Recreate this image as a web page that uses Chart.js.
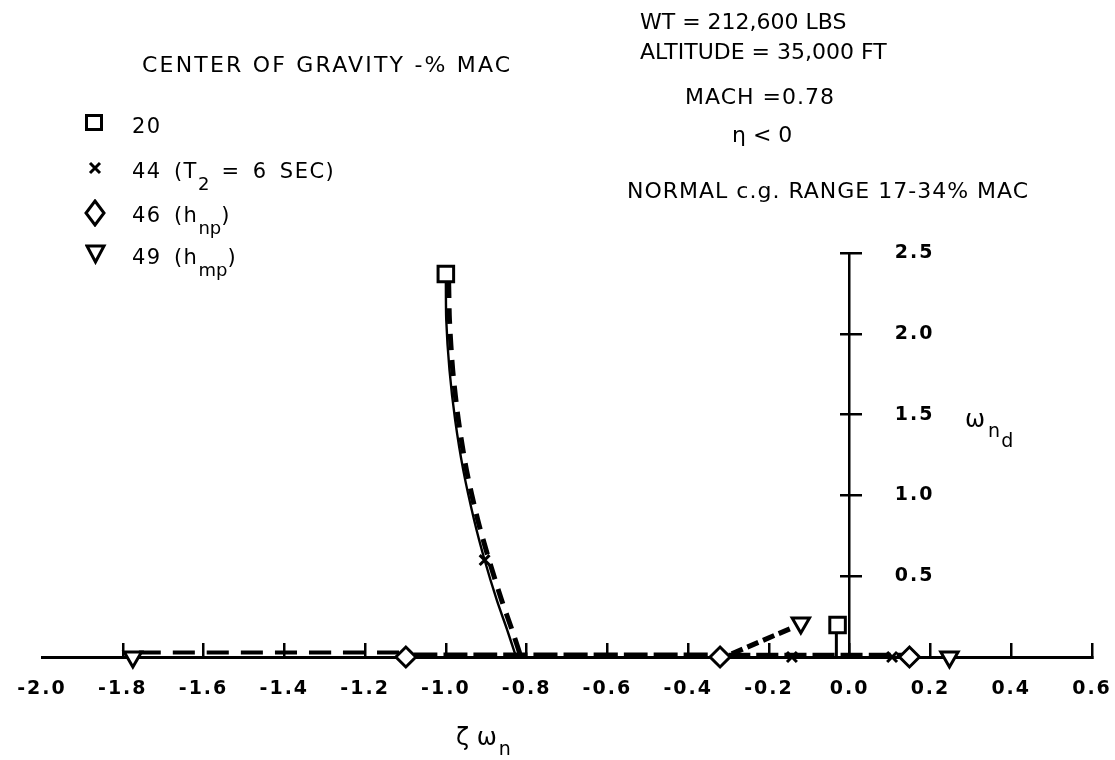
<!DOCTYPE html>
<html><head><meta charset="utf-8">
<script src="https://cdn.jsdelivr.net/npm/chart.js@4.4.1/dist/chart.umd.min.js"></script>
<style>
html,body{margin:0;padding:0;background:#fff;}
#wrap{position:relative;width:1115px;height:760px;overflow:hidden;background:#fff;}
canvas{position:absolute;left:0;top:0;}
.t{position:absolute;font-family:"DejaVu Sans",sans-serif;font-size:22px;line-height:22px;color:#000;white-space:nowrap;}
.lg{font-size:21px;letter-spacing:1.5px;word-spacing:4px;}
.sub{position:relative;top:12px;font-size:18px;letter-spacing:0;}
.mk{position:absolute;}
</style></head><body>
<div id="wrap">
<canvas id="c" width="1115" height="760"></canvas>

<div class="t" style="left:142px;top:54px;letter-spacing:2.2px;">CENTER OF GRAVITY -% MAC</div>

<svg class="mk" style="left:84px;top:113px" width="20" height="20"><rect x="2.5" y="2.5" width="15" height="14" fill="none" stroke="#000" stroke-width="3"/></svg>
<div class="t lg" style="left:132px;top:115px;">20</div>

<svg class="mk" style="left:87px;top:160px" width="16" height="16"><path d="M3 3 L13 13 M13 3 L3 13" stroke="#000" stroke-width="3"/></svg>
<div class="t lg" style="left:132px;top:160px;">44 (T<span class="sub">2</span> = 6 SEC)</div>

<svg class="mk" style="left:84px;top:199px" width="22" height="28"><polygon points="11,2 20,14 11,26 2,14" fill="none" stroke="#000" stroke-width="3"/></svg>
<div class="t lg" style="left:132px;top:204px;">46 (h<span class="sub">np</span>)</div>

<svg class="mk" style="left:85px;top:243px" width="22" height="22"><polygon points="2,3 19,3 10.5,19" fill="none" stroke="#000" stroke-width="3"/></svg>
<div class="t lg" style="left:132px;top:246px;">49 (h<span class="sub">mp</span>)</div>

<div class="t" style="left:640px;top:11px;">WT = 212,600 LBS</div>
<div class="t" style="left:640px;top:41px;">ALTITUDE = 35,000 FT</div>
<div class="t" style="left:685px;top:86px;letter-spacing:1px;">MACH =0.78</div>
<div class="t" style="left:732px;top:124px;">η &lt; 0</div>
<div class="t" style="left:627px;top:180px;letter-spacing:1px;">NORMAL c.g. RANGE 17-34% MAC</div>

<div class="t" style="left:965px;top:408px;font-size:24px;">ω<span style="position:relative;top:10px;font-size:19px;margin-left:3px;">n<span style="position:relative;top:10px;font-size:19px;margin-left:1px;">d</span></span></div>
<div class="t" style="left:456px;top:726px;font-size:24px;">ζ ω<span style="position:relative;top:10px;font-size:19px;margin-left:2px;">n</span></div>
</div>

<script>
// ---- data (zeta*omega_n on x, omega_nd on y) ----
const cg20Zeta  = [-1.000, -0.030];
const cg20Omega = [2.37, 0.198];
const cg44Zeta  = [-0.904, -0.143, 0.105];
const cg44Omega = [0.60, 0.0, 0.0];
const cg46Zeta  = [-1.099, -0.321, 0.148];
const cg46Omega = [0.0, 0.0, 0.0];
const cg49Zeta  = [-1.775, -0.121, 0.247];
const cg49Omega = [0.0, 0.210, 0.0];

// short-period locus (solid and dashed traces)
const spSolidZeta  = [-1.000, -0.999, -0.991, -0.977, -0.957, -0.930, -0.904, -0.874, -0.848, -0.826];
const spSolidOmega = [2.37, 2.085, 1.776, 1.467, 1.158, 0.848, 0.600, 0.353, 0.167, 0.0];
const spDashZeta   = [-0.993, -0.991, -0.983, -0.969, -0.949, -0.921, -0.893, -0.862, -0.836, -0.814];
const spDashOmega  = [2.32, 2.085, 1.776, 1.467, 1.158, 0.848, 0.600, 0.353, 0.167, 0.0];

// real-axis branches
const realAZeta  = [-1.76, -1.11];
const realAOmega = [0.028, 0.028];
const realBZeta  = [-1.08, -0.34];
const realBOmega = [0.012, 0.012];
const realCZeta  = [-0.30, 0.13];
const realCOmega = [0.012, 0.012];

// phugoid branches
const phArrowZeta  = [-0.292, -0.138];
const phArrowOmega = [0.02, 0.185];
const phDropZeta   = [-0.033, -0.033];
const phDropOmega  = [0.0, 0.17];

const xTickValues = [-2.0,-1.8,-1.6,-1.4,-1.2,-1.0,-0.8,-0.6,-0.4,-0.2,0.0,0.2,0.4,0.6];
const yTickValues = [0.5, 1.0, 1.5, 2.0, 2.5];

const pts = (xs, ys) => xs.map((x, i) => ({x, y: ys[i]}));
const TICKFONT = {family: 'DejaVu Sans', size: 19, weight: 'bold'};

function lineDS(xs, ys, width, dash) {
  return {data: pts(xs, ys), showLine: true, borderColor: '#000', borderWidth: width,
    borderDash: dash, pointRadius: 0, tension: 0.25, clip: false, order: 5,
    borderCapStyle: 'butt'};
}
function markDS(xs, ys, style, r, rot) {
  return {data: pts(xs, ys), showLine: false, pointStyle: style, pointRadius: r,
    pointRotation: rot || 0, pointBorderColor: '#000', pointBackgroundColor: '#fff',
    pointBorderWidth: 3, clip: false, order: 1};
}

const spacingPlugin = {
  id: 'spacing',
  beforeUpdate(chart) { chart.ctx.letterSpacing = '2px'; },
  beforeDraw(chart) { chart.ctx.letterSpacing = '2px'; }
};
const yLabelPlugin = {
  id: 'yLabels',
  afterDraw(chart) {
    const {ctx, scales: {x, y}} = chart;
    const x0 = x.getPixelForValue(0);
    ctx.save();
    ctx.font = 'bold 19px "DejaVu Sans"';
    ctx.fillStyle = '#000';
    ctx.textAlign = 'left';
    ctx.textBaseline = 'middle';
    y.ticks.forEach(t => {
      if (t.value > 0) ctx.fillText(t.value.toFixed(1), x0 + 45, y.getPixelForValue(t.value));
    });
    ctx.restore();
  }
};
const zeroY = s => { s.width = 0; s.paddingTop = 0; s.paddingBottom = 0; s.paddingLeft = 0; s.paddingRight = 0; };

new Chart(document.getElementById('c'), {
  type: 'scatter',
  data: {datasets: [
    lineDS(spSolidZeta, spSolidOmega, 2.4, []),
    lineDS(spDashZeta, spDashOmega, 5, [16, 10]),
    lineDS(realAZeta, realAOmega, 4, [22, 12]),
    lineDS(realBZeta, realBOmega, 5, [24, 6]),
    lineDS(realCZeta, realCOmega, 4.5, [22, 6]),
    lineDS(phArrowZeta, phArrowOmega, 5, [12, 5]),
    lineDS(phDropZeta, phDropOmega, 3, []),
    markDS(cg20Zeta, cg20Omega, 'rect', 11),
    markDS(cg44Zeta, cg44Omega, 'crossRot', 7),
    markDS(cg46Zeta, cg46Omega, 'rectRot', 10),
    markDS(cg49Zeta, cg49Omega, 'triangle', 10, 180)
  ]},
  options: {
    responsive: false,
    animation: false,
    events: [],
    layout: {padding: {top: 253, left: 42, right: 23, bottom: 0}},
    plugins: {legend: {display: false}, tooltip: {enabled: false}, title: {display: false}},
    scales: {
      x: {
        type: 'linear', position: 'bottom', min: -2.0, max: 0.6,
        afterBuildTicks: s => { s.ticks = xTickValues.map(v => ({value: v})); },
        afterFit: s => { s.height = 103; s.paddingLeft = 0; s.paddingRight = 0; },
        ticks: {font: TICKFONT, color: '#000', padding: 35, maxRotation: 0, autoSkip: false,
          callback: v => (Math.abs(v) < 1e-9 ? 0 : v).toFixed(1)},
        grid: {drawOnChartArea: false, tickLength: -14, lineWidth: 2.5,
          color: c => (c.tick && c.tick.value <= -1.99) ? 'rgba(0,0,0,0)' : '#000'},
        border: {display: true, color: '#000', width: 3}
      },
      y: {
        type: 'linear', position: {x: 0}, min: 0, max: 2.5,
        afterBuildTicks: s => { s.ticks = [0].concat(yTickValues).map(v => ({value: v})); },
        afterFit: zeroY,
        ticks: {display: false},
        grid: {drawOnChartArea: false, tickLength: 8, lineWidth: 2.5,
          color: c => (c.tick && c.tick.value === 0) ? 'rgba(0,0,0,0)' : '#000'},
        border: {display: true, color: '#000', width: 2.5}
      },
      y2: {
        type: 'linear', position: {x: 0}, min: 0, max: 2.5,
        afterBuildTicks: s => { s.ticks = [0].concat(yTickValues).map(v => ({value: v})); },
        afterFit: zeroY,
        ticks: {display: false},
        grid: {drawOnChartArea: false, tickLength: -12, lineWidth: 2.5,
          color: c => (c.tick && c.tick.value === 0) ? 'rgba(0,0,0,0)' : '#000'},
        border: {display: false}
      }
    }
  },
  plugins: [spacingPlugin, yLabelPlugin]
});
</script>
</body></html>
